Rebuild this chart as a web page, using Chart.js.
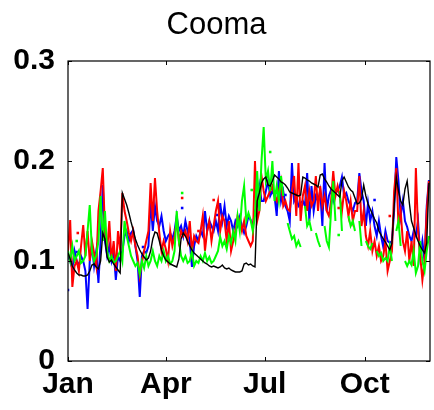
<!DOCTYPE html>
<html>
<head>
<meta charset="utf-8">
<title>Cooma</title>
<script src="https://cdn.jsdelivr.net/npm/chart.js@4/dist/chart.umd.min.js"></script>
<style>
  html, body { margin: 0; padding: 0; background: #ffffff; }
  #wrap { width: 434px; height: 410px; position: relative; }
</style>
</head>
<body>
<div id="wrap"><canvas id="c"></canvas></div>
<script>
// Day-of-year axis: one sample every second day from 1 Jan
const dayStep = 2;
const dayMax = 333;
const monthTickDays = [0, 90, 181, 273];
const monthTickLabels = ['Jan', 'Apr', 'Jul', 'Oct'];
const yTickValues = [0, 0.1, 0.2, 0.3];
const yTickLabels = ['0', '0.1', '0.2', '0.3'];

// Black series (smooth, slowly decaying after each jump)
const blackVals = [
  0.108,0.102,0.095,0.091,0.088,0.086,0.086,0.085,0.085,0.086,
  0.090,0.096,0.097,0.094,0.092,0.100,0.128,0.122,0.104,0.099,
  0.101,0.097,0.094,0.091,0.088,0.168,0.162,0.156,0.148,0.139,
  0.131,0.122,0.116,0.111,0.107,0.104,0.101,0.103,0.110,0.122,
  0.129,0.128,0.120,0.111,0.105,0.101,0.099,0.097,0.096,0.095,
  0.094,0.102,0.122,0.128,0.125,0.120,0.115,0.111,0.108,0.106,
  0.104,0.102,0.100,0.098,0.097,0.095,0.094,0.095,0.094,0.093,
  0.094,0.096,0.093,0.092,0.093,0.091,0.090,0.089,0.089,0.089,
  0.090,0.097,0.098,0.096,0.097,0.095,0.094,0.160,0.168,0.178,
  0.182,0.184,0.176,0.175,0.180,0.186,0.184,0.182,0.179,0.178,
  0.176,0.173,0.169,0.168,0.167,0.166,0.165,0.166,0.184,0.183,
  0.181,0.180,0.178,0.177,0.176,0.174,0.186,0.187,0.182,0.179,
  0.175,0.172,0.170,0.168,0.166,0.164,0.180,0.184,0.179,0.174,
  0.171,0.169,0.163,0.157,0.158,0.162,0.176,0.165,0.157,0.152,
  0.147,0.142,0.138,0.130,0.126,0.122,0.119,0.115,0.111,0.118,
  0.155,0.184,0.170,0.160,0.156,0.172,0.180,0.158,0.140,0.133,
  0.126,0.120,0.115,0.111,0.108,0.118,0.178
];

// Blue series
const blueVals = [
  0.105,0.100,0.092,0.110,0.100,0.095,0.105,0.100,0.090,0.052,
  0.100,0.115,0.095,0.110,0.078,0.120,0.176,0.120,0.105,0.115,
  0.100,0.110,0.081,0.105,0.100,0.110,0.125,0.130,0.120,0.128,
  0.131,0.115,0.100,0.064,0.105,0.110,0.108,0.115,0.160,0.130,
  0.155,0.140,0.135,0.145,0.130,0.120,0.125,0.128,0.122,0.130,
  0.145,0.130,0.135,0.125,0.140,0.130,0.120,0.094,0.115,0.125,
  0.120,0.130,0.125,0.150,0.130,0.140,0.135,0.130,0.140,0.130,
  0.158,0.140,0.155,0.135,0.145,0.140,0.130,0.140,0.135,0.144,
  0.135,0.128,0.135,0.145,0.141,0.135,0.150,0.155,0.175,0.160,
  0.160,0.170,0.180,0.165,0.170,0.165,0.145,0.190,0.160,0.170,
  0.155,0.150,0.140,0.198,0.160,0.165,0.155,0.158,0.160,0.155,
  0.188,0.140,0.175,0.150,0.165,0.160,0.170,0.135,0.198,0.150,
  0.165,0.171,0.160,0.168,0.170,0.175,0.184,0.165,0.168,0.160,
  0.155,0.150,0.158,0.160,0.188,0.170,0.160,0.135,0.158,0.140,
  0.150,0.135,0.125,0.140,0.125,0.114,0.130,0.120,0.118,0.120,
  0.150,0.204,0.180,0.145,0.160,0.140,0.134,0.125,0.120,0.130,
  0.125,0.140,0.105,0.120,0.100,0.155,0.181
];

// Red series
const redVals = [
  0.110,0.141,0.074,0.095,0.100,0.090,0.115,0.136,0.105,0.130,
  0.100,0.120,0.108,0.095,0.150,0.170,0.193,0.130,0.110,0.140,
  0.100,0.120,0.090,0.130,0.110,0.168,0.150,0.140,0.128,0.120,
  0.130,0.115,0.105,0.085,0.098,0.110,0.120,0.130,0.178,0.140,
  0.183,0.150,0.128,0.110,0.120,0.112,0.100,0.130,0.115,0.125,
  0.140,0.120,0.130,0.125,0.130,0.120,0.140,0.110,0.125,0.120,
  0.118,0.130,0.145,0.110,0.130,0.140,0.120,0.135,0.150,0.160,
  0.130,0.145,0.140,0.120,0.140,0.110,0.120,0.130,0.145,0.140,
  0.130,0.140,0.125,0.120,0.115,0.120,0.200,0.140,0.150,0.185,
  0.170,0.160,0.165,0.170,0.175,0.165,0.160,0.170,0.180,0.155,
  0.160,0.152,0.150,0.170,0.185,0.145,0.198,0.140,0.165,0.175,
  0.150,0.170,0.155,0.160,0.185,0.150,0.175,0.155,0.165,0.150,
  0.145,0.160,0.190,0.165,0.175,0.165,0.150,0.170,0.160,0.145,
  0.160,0.140,0.150,0.150,0.185,0.135,0.150,0.125,0.115,0.130,
  0.110,0.120,0.105,0.115,0.100,0.105,0.120,0.090,0.100,0.110,
  0.170,0.193,0.135,0.150,0.120,0.110,0.130,0.100,0.120,0.095,
  0.193,0.130,0.105,0.081,0.100,0.150,0.180
];

// Green series (gaps where no value was recorded)
const greenVals = [
  0.110,0.100,0.115,0.100,0.105,0.110,0.098,0.100,0.105,0.130,
  0.156,0.110,0.100,0.105,0.120,0.165,0.120,0.150,0.110,0.100,
  0.105,0.098,0.100,0.105,0.110,0.100,0.140,0.125,0.115,0.105,
  0.100,0.095,0.098,0.087,0.100,0.093,0.105,0.095,0.100,0.110,
  0.100,0.095,0.105,0.100,0.110,0.100,0.105,0.097,0.100,0.110,
  0.150,0.120,0.105,0.100,0.105,0.098,0.100,0.110,0.095,0.100,
  0.098,0.105,0.100,0.108,0.100,0.104,0.098,0.100,0.105,0.110,
  0.124,0.115,0.120,0.112,0.125,0.118,0.130,0.120,0.145,0.130,
  0.160,0.175,0.140,0.148,0.141,0.130,0.145,0.190,0.150,0.200,
  0.234,0.180,0.190,0.170,0.200,0.160,0.175,0.160,0.185,0.165,
  null,0.138,0.130,0.122,0.125,0.115,0.120,0.114,null,0.155,
  0.135,0.140,0.130,null,0.128,0.120,0.114,null,0.135,0.120,
  0.114,0.150,0.180,0.140,null,0.170,0.130,null,null,0.145,
  0.135,0.140,0.130,null,0.140,0.115,null,0.120,0.115,0.112,
  0.118,null,0.110,0.105,0.108,0.100,0.103,0.100,0.115,0.100,
  null,0.130,0.140,0.115,null,0.100,0.095,0.100,0.096,0.110,
  0.088,0.095,0.120,0.100,0.090,0.110,0.125
];

// Lone readings shown as single dots: [day, value]
const blueDots = [[0,0.071],[8,0.109],[69,0.114],[105,0.153],[137,0.146],[200,0.166],[218,0.171],[282,0.161]];
const redDots = [[9,0.128],[105,0.163],[120,0.130],[134,0.161],[185,0.180],[249,0.153],[296,0.145]];
const greenDots = [[8,0.120],[105,0.168],[169,0.171],[186,0.209],[249,0.126]];

function toPoints(vals) {
  return vals.map((v, i) => ({ x: i * dayStep, y: v }));
}
function toDots(pairs) {
  return pairs.map(p => ({ x: p[0], y: p[1] }));
}

function lineSet(vals, color, width) {
  return {
    data: toPoints(vals),
    borderColor: color,
    backgroundColor: color,
    borderWidth: width,
    pointRadius: 0,
    tension: 0,
    spanGaps: false,
    fill: false
  };
}
function dotSet(pairs, color) {
  return {
    data: toDots(pairs),
    showLine: false,
    pointStyle: 'rect',
    pointRadius: 1.8,
    pointBorderWidth: 0,
    backgroundColor: color,
    borderColor: color
  };
}

// Box round the axes with short inward tick marks on all four sides
const boxFrame = {
  id: 'boxFrame',
  afterDatasetsDraw(chart) {
    const { ctx, chartArea: a, scales } = chart;
    const tl = 4;
    ctx.save();
    ctx.strokeStyle = '#000';
    ctx.lineWidth = 1.2;
    ctx.strokeRect(a.left, a.top, a.right - a.left, a.bottom - a.top);
    ctx.lineWidth = 1;
    ctx.beginPath();
    monthTickDays.forEach(d => {
      const x = Math.round(scales.x.getPixelForValue(d)) + 0.5;
      ctx.moveTo(x, a.bottom); ctx.lineTo(x, a.bottom - tl);
      ctx.moveTo(x, a.top); ctx.lineTo(x, a.top + tl);
    });
    yTickValues.forEach(v => {
      const y = Math.round(scales.y.getPixelForValue(v)) + 0.5;
      ctx.moveTo(a.left, y); ctx.lineTo(a.left + tl, y);
      ctx.moveTo(a.right, y); ctx.lineTo(a.right - tl, y);
    });
    ctx.stroke();
    ctx.restore();
  }
};

const tickFont = { family: '"Liberation Sans", Arial, sans-serif', size: 30, weight: 'bold' };

new Chart(document.getElementById('c'), {
  type: 'line',
  data: {
    datasets: [
      lineSet(blackVals, '#000000', 1.4),
      lineSet(greenVals, '#00ff00', 2),
      dotSet(greenDots, '#00ff00'),
      lineSet(redVals, '#ff0000', 2),
      dotSet(redDots, '#ff0000'),
      lineSet(blueVals, '#0000ff', 2),
      dotSet(blueDots, '#0000ff')
    ]
  },
  options: {
    responsive: true,
    maintainAspectRatio: false,
    animation: false,
    devicePixelRatio: 1,
    layout: { padding: { left: 0, right: 1, top: 0, bottom: 0 } },
    plugins: {
      legend: { display: false },
      tooltip: { enabled: false },
      title: {
        display: true,
        text: 'Cooma',
        color: '#000',
        font: { family: '"Liberation Sans", Arial, sans-serif', size: 31, weight: 'normal', lineHeight: 1.2 },
        padding: { top: 7, bottom: 16.8 }
      }
    },
    scales: {
      x: {
        type: 'linear',
        min: 0,
        max: dayMax,
        grid: { display: false, drawTicks: false },
        border: { display: false },
        afterBuildTicks(scale) { scale.ticks = monthTickDays.map(v => ({ value: v })); },
        afterFit(scale) { scale.height = 49; },
        ticks: {
          autoSkip: false,
          maxRotation: 0,
          padding: 6,
          color: '#000',
          font: tickFont,
          callback(v) { const i = monthTickDays.indexOf(v); return i >= 0 ? monthTickLabels[i] : ''; }
        }
      },
      y: {
        type: 'linear',
        min: 0,
        max: 0.3,
        grid: { display: false, drawTicks: false },
        border: { display: false },
        afterBuildTicks(scale) { scale.ticks = yTickValues.map(v => ({ value: v })); },
        afterFit(scale) { scale.width = 68; },
        ticks: {
          padding: 13,
          color: '#000',
          font: tickFont,
          callback(v) { const i = yTickValues.findIndex(t => Math.abs(t - v) < 1e-9); return i >= 0 ? yTickLabels[i] : ''; }
        }
      }
    }
  },
  plugins: [boxFrame]
});
</script>
</body>
</html>
